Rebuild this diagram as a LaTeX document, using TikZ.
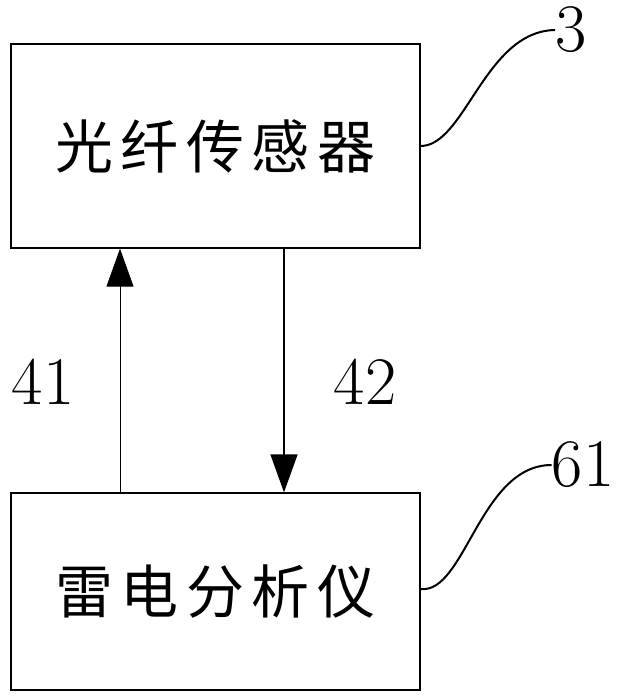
\documentclass[tikz,border=0pt]{standalone}
\usepackage{fontspec}
\newfontfamily\cjk[LetterSpace=13]{Noto Sans CJK SC}
\usepackage{tikz}
\usetikzlibrary{arrows.meta}

\begin{document}
\begin{tikzpicture}[x=1pt, y=-1pt]
                \useasboundingbox (0,0) rectangle (616,698);
                \node[draw, line width=1.3pt, inner sep=0pt, minimum width=409pt, minimum height=204pt, font=\cjk\fontsize{58}{64}\selectfont] (sensor) at (215.5,146) {光纤传感器};
                \node[draw, line width=1.3pt, inner sep=0pt, minimum width=409pt, minimum height=197pt, font=\cjk\fontsize{58}{64}\selectfont] (analyzer) at (215.5,591.5) {雷电分析仪};
                \draw[-{Triangle[width=27pt, length=38pt]}, line width=1pt] ([xshift=-95.5pt]analyzer.north) -- ([xshift=-95.5pt]sensor.south);
                \draw[-{Triangle[width=27pt, length=38pt]}, line width=1.5pt] ([xshift=68.5pt]sensor.south) -- ([xshift=68.5pt]analyzer.north);
                \node[font=\fontsize{68}{70}\selectfont] (n41) at (43,382) {41};
                \node[font=\fontsize{68}{70}\selectfont] (n42) at (365,382) {42};
                \node[font=\fontsize{68}{70}\selectfont, inner sep=0pt] (n3) at (571,30) {3};
                \node[font=\fontsize{68}{70}\selectfont, inner sep=0pt] (n61) at (583,465) {61};
                \draw[line width=2pt] (sensor.east) .. controls (465,146) and (485,31) .. (n3.west);
                \draw[line width=2pt] ([yshift=2.5pt]analyzer.east) .. controls (465,594) and (480,465) .. (n61.west);
            \end{tikzpicture}
\end{document}
